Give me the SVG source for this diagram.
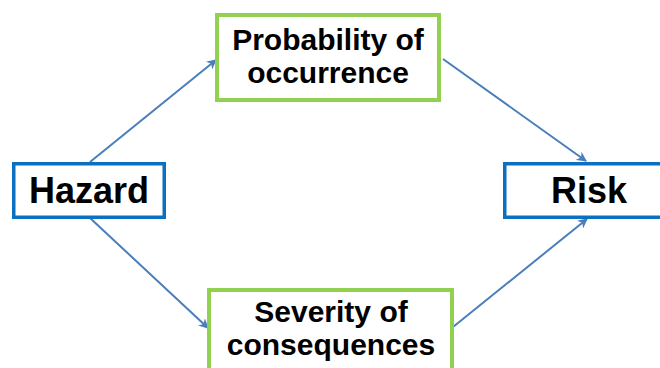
<svg xmlns="http://www.w3.org/2000/svg" width="660" height="368" viewBox="0 0 660 368">
<defs>
<style>
.blue{fill:#fff;stroke:#0b70c0;stroke-width:3.5}
.green{fill:#fff;stroke:#92d050;stroke-width:4}
.t{font-family:"Liberation Sans",Arial,sans-serif;font-weight:bold;fill:#000;text-anchor:middle}
.s{font-size:30px}
.l{font-size:36px}
.c{stroke:#4a7ebb;stroke-width:2;fill:none;marker-end:url(#ah)}
</style>
<marker id="ah" viewBox="0 0 10 10" refX="9" refY="5" markerWidth="5" markerHeight="5" orient="auto" markerUnits="strokeWidth">
<path d="M0,0 L10,5 L0,10 L3,5 z" fill="#4a7ebb"/>
</marker>
</defs>
<rect width="660" height="368" fill="#fff"/>
<g id="connectors">
<line class="c" x1="90" y1="162" x2="216" y2="60"/>
<line class="c" x1="443" y1="59" x2="586" y2="161"/>
<line class="c" x1="90" y1="218" x2="208" y2="328"/>
<line class="c" x1="453" y1="327" x2="587" y2="219"/>
</g>
<g id="hazard">
<rect class="blue" x="13.75" y="163.75" width="150.5" height="53.5"/>
<text class="t l" x="89" y="203">Hazard</text>
</g>
<g id="risk">
<rect class="blue" x="504.75" y="163.75" width="170" height="53.5"/>
<text class="t l" x="589" y="203">Risk</text>
</g>
<g id="probability">
<rect class="green" x="217" y="15" width="222" height="85"/>
<text class="t s" x="328" y="50">Probability of</text>
<text class="t s" x="328" y="83">occurrence</text>
</g>
<g id="severity">
<rect class="green" x="209" y="290" width="243" height="90"/>
<text class="t s" x="331" y="322">Severity of</text>
<text class="t s" x="331" y="355">consequences</text>
</g>
</svg>
